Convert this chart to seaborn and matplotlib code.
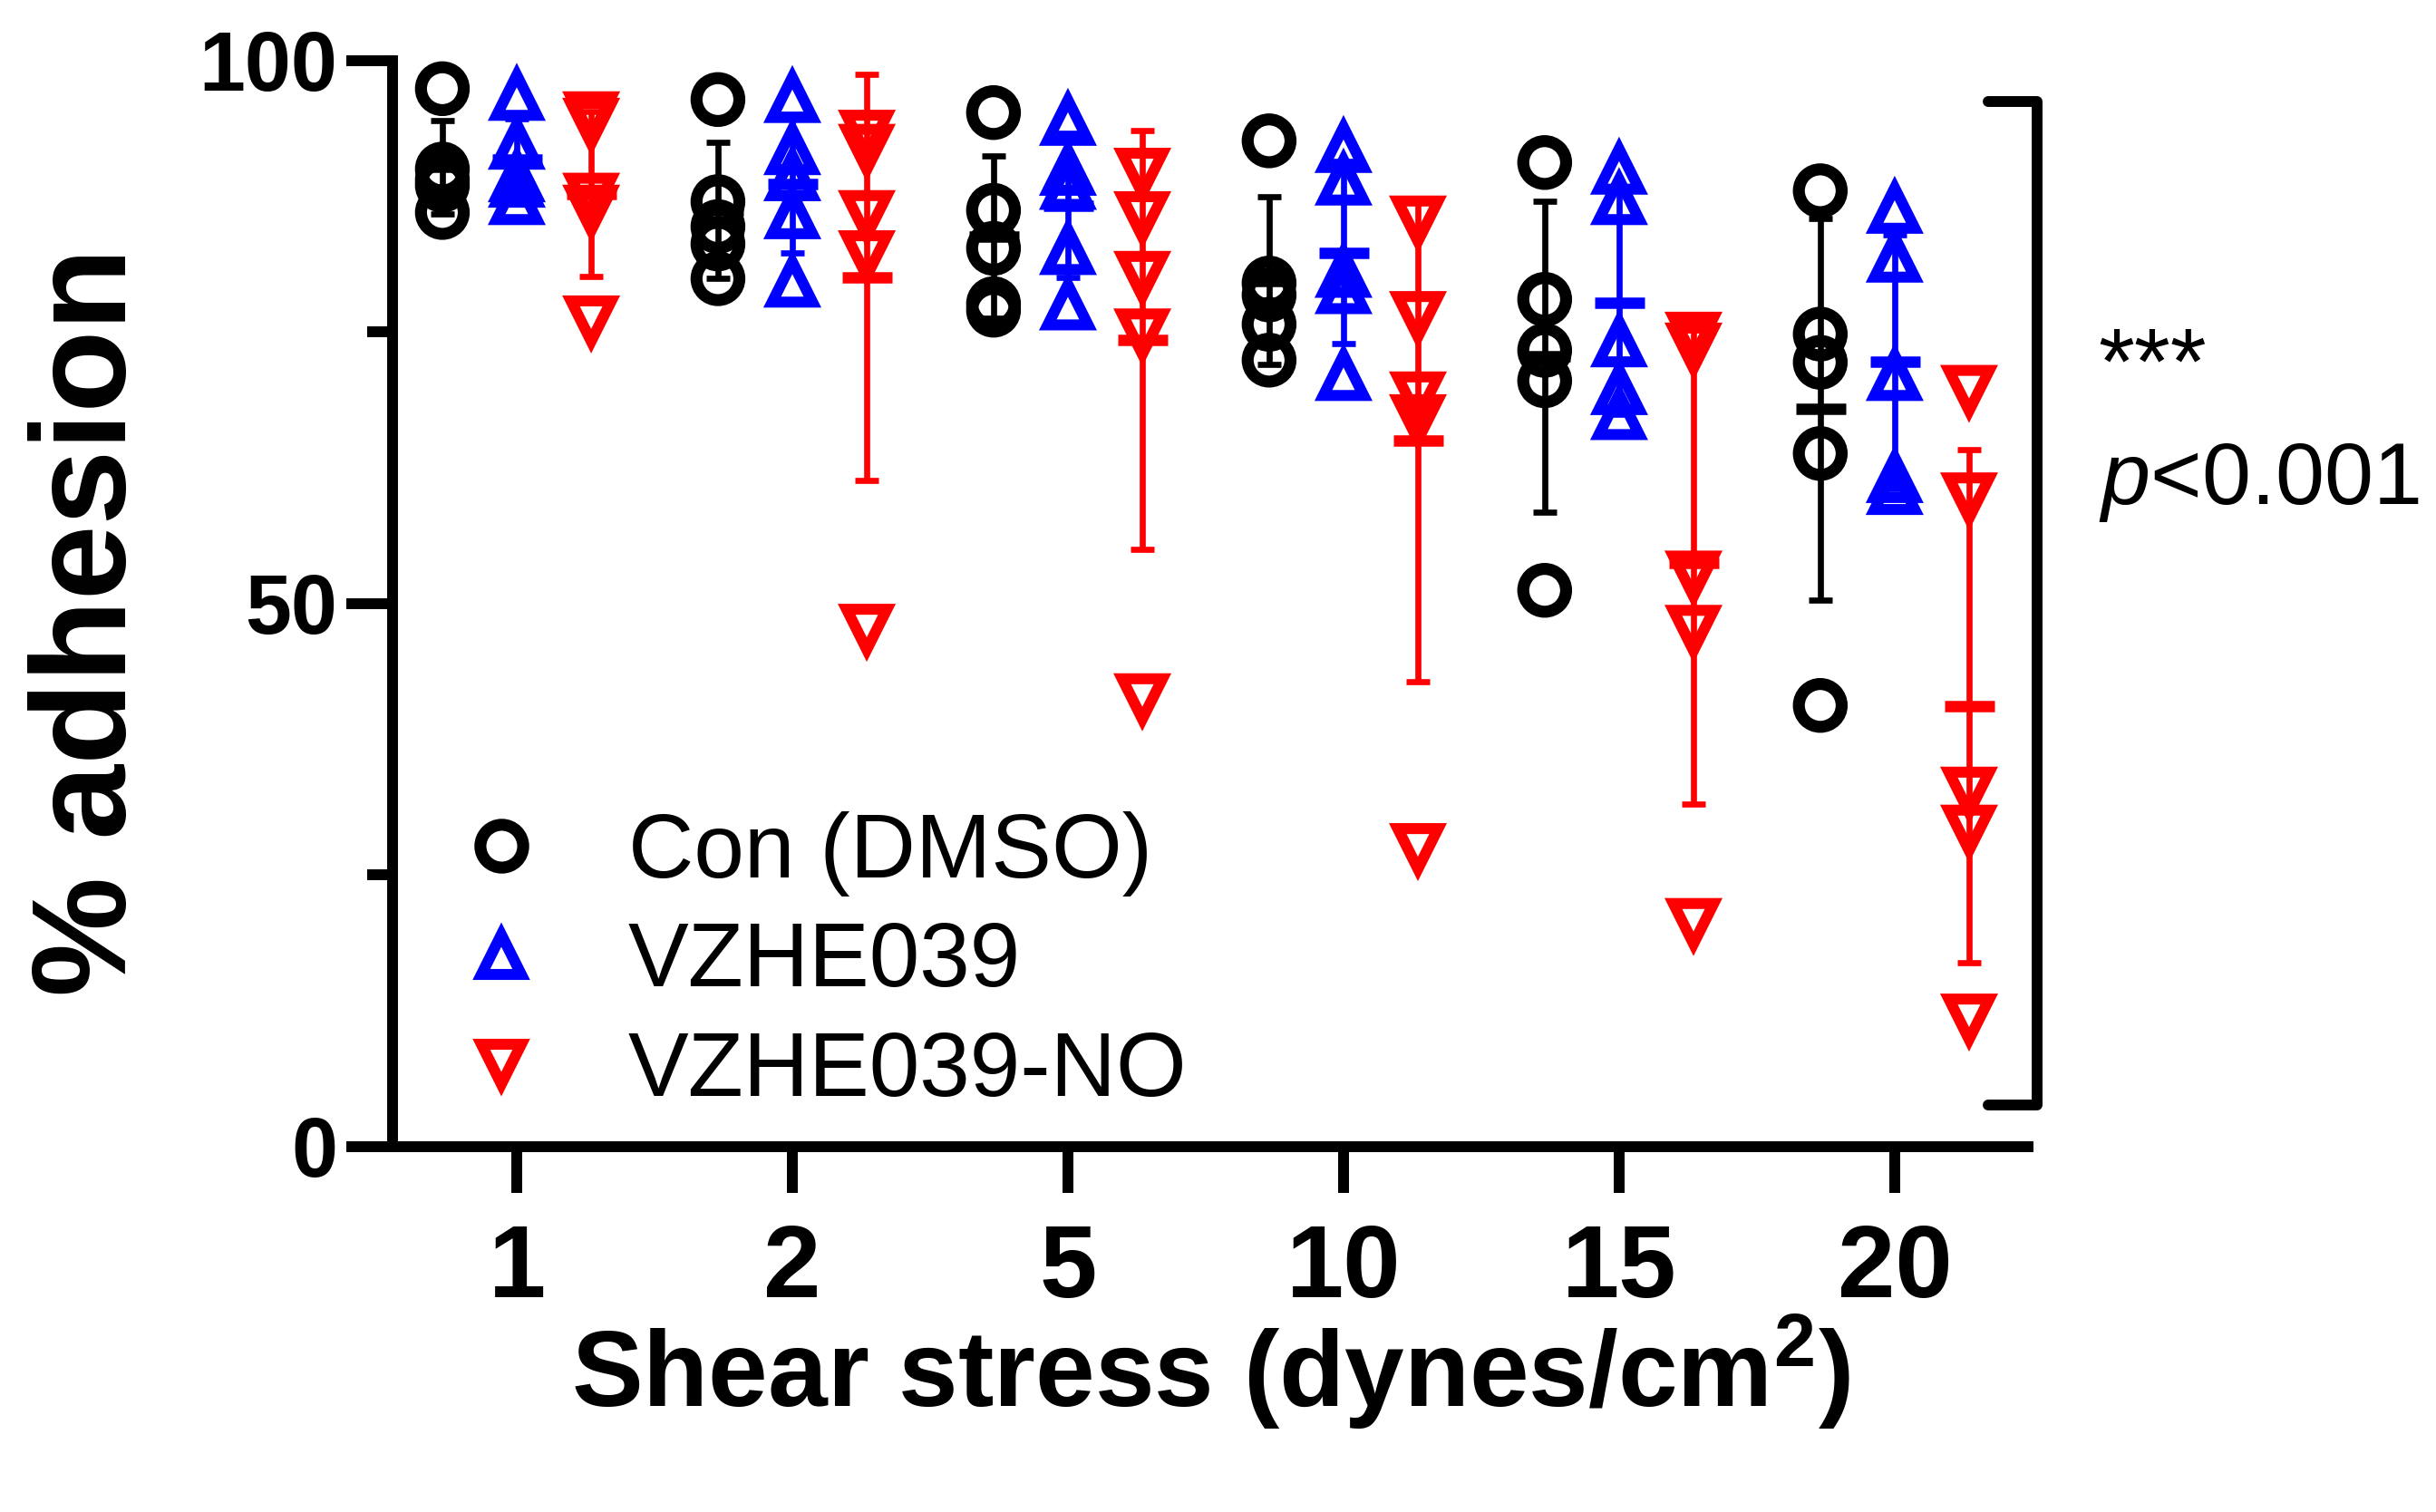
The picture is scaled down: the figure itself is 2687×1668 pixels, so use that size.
import numpy as np
import pandas as pd
import matplotlib
matplotlib.use("Agg")
import matplotlib.pyplot as plt
from matplotlib.lines import Line2D
import seaborn as sns

# %% data (% adhesion, 5 runs per shear stress)
shear = ["1", "2", "5", "10", "15", "20"]
groups = ["Con (DMSO)", "VZHE039", "VZHE039-NO"]

con_dmso = [
    [97.4, 90.0, 89.0, 88.5, 86.0],
    [96.4, 87.0, 84.7, 83.1, 79.9],
    [95.2, 86.2, 82.7, 77.6, 77.0],
    [92.6, 79.5, 78.4, 75.7, 72.4],
    [90.6, 78.0, 73.3, 70.5, 51.2],
    [88.0, 74.8, 72.2, 63.8, 40.6],
]
vzhe039 = [
    [96.8, 92.3, 89.3, 88.8, 87.2],
    [96.6, 91.8, 89.4, 85.9, 79.6],
    [94.5, 89.9, 88.6, 82.6, 77.5],
    [92.0, 89.0, 80.5, 79.0, 71.0],
    [90.0, 87.2, 74.1, 69.7, 67.4],
    [86.4, 81.9, 71.0, 61.6, 60.5],
]
vzhe039_no = [
    [94.8, 94.2, 87.3, 86.2, 76.0],
    [93.1, 91.8, 85.7, 82.0, 47.6],
    [89.6, 85.6, 80.1, 74.8, 41.2],
    [85.2, 76.4, 69.0, 66.9, 27.4],
    [74.5, 73.5, 52.5, 47.5, 20.5],
    [69.6, 59.7, 32.6, 29.1, 11.7],
]

colors = {"Con (DMSO)": "#000000", "VZHE039": "#0000FF", "VZHE039-NO": "#FF0000"}
markers = {"Con (DMSO)": "o", "VZHE039": "^", "VZHE039-NO": "v"}
marker_size = {"o": 34, "^": 32, "v": 32}
marker_lw = {"o": 9.5, "^": 8.7, "v": 8.7}
offsets = {"Con (DMSO)": -0.27, "VZHE039": 0.0, "VZHE039-NO": 0.27}

# %% long table + mean/SD
rows = []
for name, vals in zip(groups, [con_dmso, vzhe039, vzhe039_no]):
    for i, s in enumerate(shear):
        for v in vals[i]:
            rows.append({"group": name, "shear": s, "pos": i, "adhesion": v})
df = pd.DataFrame(rows)
df["x"] = df["pos"] + df["group"].map(offsets)

summary = (df.groupby(["group", "pos"])["adhesion"]
           .agg(["mean", "std"]).reset_index())

# %% style
sns.set_style("ticks")
plt.rcParams["font.family"] = ["Liberation Sans", "DejaVu Sans"]
plt.rcParams["mathtext.fontset"] = "custom"
plt.rcParams["mathtext.rm"] = "Liberation Sans"
plt.rcParams["mathtext.it"] = "Liberation Sans:italic"
plt.rcParams["mathtext.bf"] = "Liberation Sans:bold"
plt.rcParams["axes.edgecolor"] = "black"
plt.rcParams["xtick.color"] = "black"
plt.rcParams["ytick.color"] = "black"
plt.rcParams["text.color"] = "black"
plt.rcParams["axes.labelcolor"] = "black"

fig = plt.figure(figsize=(26.87, 16.68), dpi=100)
ax = fig.add_axes([0.16115, 0.2419, 0.67138, 0.71811])

# %% points, SD bars and mean lines
for name in groups:
    c = colors[name]
    m = markers[name]
    sub = df[df["group"] == name]
    sns.scatterplot(data=sub, x="x", y="adhesion", marker=m,
                    s=marker_size[m] ** 2, color=c, facecolor="none",
                    edgecolor=c, linewidth=marker_lw[m], joinstyle="miter",
                    ax=ax, zorder=3, clip_on=False, legend=False)

    st = summary[summary["group"] == name]
    xs = st["pos"] + offsets[name]
    ax.errorbar(xs, st["mean"], yerr=st["std"], fmt="none", ecolor=c,
                elinewidth=4.8, capsize=9.6, capthick=4.8, zorder=4)
    ax.plot(xs, st["mean"], ls="none", marker="_", ms=39.6, mew=9,
            color=c, zorder=5, clip_on=False)

# %% axes
ax.set_xlim(-0.4507, 5.484)
ax.set_ylim(0, 100)
ax.set_xticks(range(len(shear)), shear)
ax.set_yticks([0, 50, 100])
ax.set_yticks([25, 75], minor=True)
ax.xaxis.set_minor_locator(plt.NullLocator())
sns.despine(ax=ax)
for sp in ["left", "bottom"]:
    ax.spines[sp].set_linewidth(8.6)
ax.tick_params(which="major", length=36.7, width=8.6, direction="out")
ax.tick_params(axis="y", which="minor", length=20, width=8.6, direction="out")
ax.tick_params(axis="x", labelsize=82, pad=24)
ax.tick_params(axis="y", labelsize=66, pad=7)
for lab in ax.get_xticklabels() + ax.get_yticklabels():
    lab.set_fontweight("bold")

ax.set_xlabel("Shear stress (dynes/cm${}^{\\mathbf{2}}$)", fontsize=85,
              fontweight="bold")
ax.xaxis.set_label_coords(0.5, -0.24)
ax.xaxis.label.set_va("baseline")
ax.set_ylabel("% adhesion", fontsize=107, fontweight="bold")
ax.yaxis.set_label_coords(-0.163, 0.483)
ax.yaxis.label.set_va("baseline")

# %% legend
handles = [Line2D([], [], ls="none", marker=markers[g],
                  ms=marker_size[markers[g]], mfc="none", mec=colors[g],
                  mew=marker_lw[markers[g]]) for g in groups]
ax.legend(handles, groups, loc="center left", bbox_to_anchor=(0.0386, 0.169),
          frameon=False, fontsize=72, handlelength=1.0, handletextpad=0.9,
          labelspacing=0.265, borderpad=0, borderaxespad=0)

# %% significance bracket
ax.plot([5.339, 5.516, 5.516, 5.339], [96.2, 96.2, 3.8, 3.8], color="black",
        lw=8.6, clip_on=False, solid_joinstyle="round")
ax.text(5.737, 69.3, "***", fontsize=74, ha="left", va="baseline",
        clip_on=False)
ax.text(5.74, 59.15, "$\\mathit{p}$<0.001", fontsize=70, ha="left",
        va="baseline", clip_on=False)

fig.savefig("out.png", dpi=100)
